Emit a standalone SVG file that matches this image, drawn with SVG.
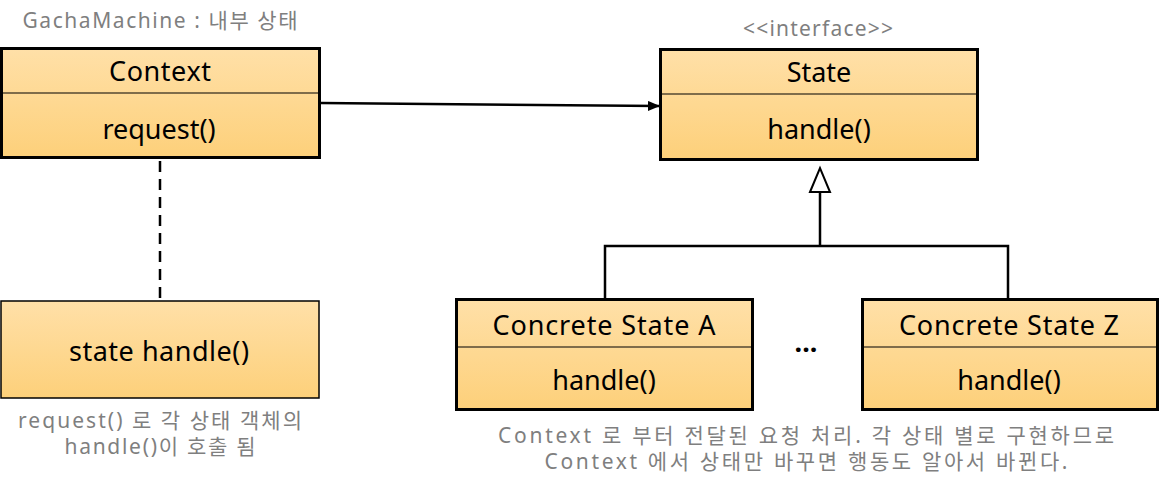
<svg xmlns="http://www.w3.org/2000/svg" width="1159" height="488" viewBox="0 0 1159 488">
<style>
.box{stroke:#000;stroke-width:3;fill:url(#g)}
.thin{stroke:#000;stroke-width:1.5;fill:url(#g)}
.div{stroke:#000;stroke-width:1.2}
.t{font-family:"Noto Sans","Noto Sans CJK KR",sans-serif;font-size:27px;fill:#000;text-anchor:middle}
.n{font-family:"Noto Sans","Noto Sans CJK KR",sans-serif;font-size:21px;fill:#7f7f7f;text-anchor:middle}
.ln{stroke:#000;stroke-width:2.5;fill:none}
</style>
<defs>
<linearGradient id="g" x1="0" y1="0" x2="0" y2="1">
<stop offset="0" stop-color="#ffe0a8"/>
<stop offset="1" stop-color="#fdd07a"/>
</linearGradient>
<marker id="arr" markerWidth="12" markerHeight="10" refX="11" refY="5" orient="auto" markerUnits="userSpaceOnUse">
<path d="M0,0 L12,5 L0,10 z" fill="#000"/>
</marker>
</defs>
<text class="n" x="160" y="28" textLength="275" lengthAdjust="spacing">GachaMachine : 내부 상태</text>
<text class="n" x="818" y="36" textLength="150" lengthAdjust="spacing">&lt;&lt;interface&gt;&gt;</text>
<g id="connectors">
<line class="ln" x1="321" y1="103" x2="659" y2="106" marker-end="url(#arr)"/>
<line class="ln" x1="160" y1="143" x2="160" y2="300" stroke-dasharray="11,7"/>
<polyline class="ln" points="605,299 605,246 1008,246 1008,299"/>
<line class="ln" x1="820" y1="246" x2="820" y2="192"/>
<path d="M810,192 L820,168 L830,192 z" fill="#fff" stroke="#000" stroke-width="2"/>
</g>
<g id="context">
<rect class="box" x="1.5" y="48.5" width="318" height="109"/>
<line class="div" x1="1.5" y1="93" x2="319.5" y2="93"/>
<text class="t" x="160" y="81" textLength="102" lengthAdjust="spacing">Context</text>
<text class="t" x="159" y="139">request()</text>
</g>
<g id="state">
<rect class="box" x="660.5" y="49.5" width="317" height="110"/>
<line class="div" x1="660.5" y1="94" x2="977.5" y2="94"/>
<text class="t" x="819" y="82">State</text>
<text class="t" x="819" y="139">handle()</text>
</g>
<g id="statehandle">
<rect class="thin" x="1" y="301" width="318" height="97"/>
<text class="t" x="159" y="361" textLength="180" lengthAdjust="spacing">state handle()</text>
</g>
<g id="concreteA">
<rect class="box" x="456.5" y="299.5" width="296" height="110"/>
<line class="div" x1="456.5" y1="347" x2="752.5" y2="347"/>
<text class="t" x="604" y="335" textLength="223" lengthAdjust="spacing">Concrete State A</text>
<text class="t" x="604" y="390">handle()</text>
</g>
<g id="concreteZ">
<rect class="box" x="862.5" y="299.5" width="295" height="110"/>
<line class="div" x1="862.5" y1="347" x2="1157.5" y2="347"/>
<text class="t" x="1009" y="335" textLength="220" lengthAdjust="spacing">Concrete State Z</text>
<text class="t" x="1009" y="390">handle()</text>
</g>
<text class="t" x="806" y="352" font-weight="bold">...</text>
<text class="n" x="160" y="428" textLength="284" lengthAdjust="spacing">request() 로 각 상태 객체의</text>
<text class="n" x="160" y="454" textLength="191" lengthAdjust="spacing">handle()이 호출 됨</text>
<text class="n" x="806" y="443" textLength="616" lengthAdjust="spacing">Context 로 부터 전달된 요청 처리. 각 상태 별로 구현하므로</text>
<text class="n" x="806" y="469" textLength="523" lengthAdjust="spacing">Context 에서 상태만 바꾸면 행동도 알아서 바뀐다.</text>
</svg>
